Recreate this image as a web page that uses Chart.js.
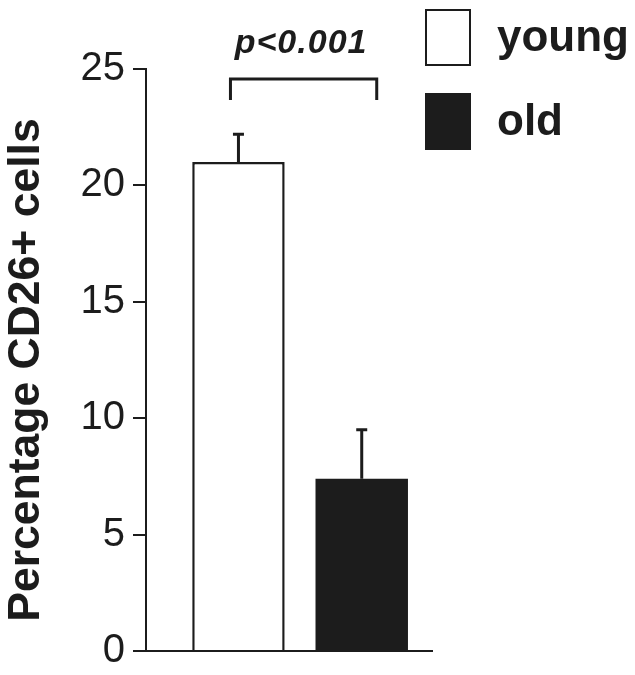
<!DOCTYPE html>
<html>
<head>
<meta charset="utf-8">
<script src="https://cdn.jsdelivr.net/npm/chart.js@4.4.1/dist/chart.umd.min.js"></script>
<style>
  html, body { margin: 0; padding: 0; background: #ffffff; }
  #wrap { width: 635px; height: 675px; }
</style>
</head>
<body>
<div id="wrap"><canvas id="c" width="635" height="675"></canvas></div>
<script>
// ---- data ----
const categories = ['young', 'old'];
const values = [21.0, 7.4];
const errors = [1.2, 2.1];
const yTicks = [0, 5, 10, 15, 20, 25];
const pLabel = 'p<0.001';
const yTitle = 'Percentage CD26+ cells';

const INK = '#1c1c1c';
const fills = ['#ffffff', INK];
const borderWidths = [2.5, 0];

const errorBarPlugin = {
  id: 'errorBars',
  afterDatasetsDraw(chart) {
    const ctx = chart.ctx;
    const meta = chart.getDatasetMeta(0);
    const ys = chart.scales.y;
    ctx.save();
    ctx.strokeStyle = INK;
    ctx.lineWidth = 3;
    meta.data.forEach((bar, i) => {
      const x = bar.x;
      const yTop = ys.getPixelForValue(values[i] + errors[i]);
      const yBar = ys.getPixelForValue(values[i]);
      ctx.beginPath();
      ctx.moveTo(x, yBar);
      ctx.lineTo(x, yTop);
      ctx.moveTo(x - 5.5, yTop);
      ctx.lineTo(x + 5.5, yTop);
      ctx.stroke();
    });
    // significance bracket
    const x0 = meta.data[0].x - 8;
    const x1 = meta.data[1].x + 15;
    const yb = ys.getPixelForValue(24.57);
    const yl = ys.getPixelForValue(23.67);
    ctx.beginPath();
    ctx.moveTo(x0, yl);
    ctx.lineTo(x0, yb);
    ctx.lineTo(x1, yb);
    ctx.lineTo(x1, yl);
    ctx.stroke();
    ctx.fillStyle = INK;
    ctx.font = 'italic bold 34px "Liberation Sans", Arial, sans-serif';
    ctx.textAlign = 'center';
    ctx.textBaseline = 'alphabetic';
    try { ctx.letterSpacing = '1px'; } catch (e) {}
    ctx.fillText(pLabel, (meta.data[0].x + meta.data[1].x) / 2 + 1, ys.getPixelForValue(25.68));
    try { ctx.letterSpacing = '0px'; } catch (e) {}
    // legend
    ctx.font = 'bold 44px "Liberation Sans", Arial, sans-serif';
    ctx.textAlign = 'left';
    ctx.textBaseline = 'middle';
    const lx = 425, bw = 46, bh = 57;
    const rows = [9, 93];
    categories.forEach((name, i) => {
      const top = rows[i];
      ctx.fillStyle = fills[i];
      ctx.fillRect(lx, top, bw, bh);
      if (borderWidths[i] > 0) {
        ctx.lineWidth = 2;
        ctx.strokeStyle = INK;
        ctx.strokeRect(lx + 1, top + 1, bw - 2, bh - 2);
      }
      ctx.fillStyle = INK;
      ctx.fillText(name, 497, top + bh / 2 + 1);
    });
    // y-axis title
    ctx.save();
    ctx.translate(27, 370);
    ctx.rotate(-Math.PI / 2);
    ctx.font = 'bold 44.5px "Liberation Sans", Arial, sans-serif';
    ctx.textAlign = 'center';
    ctx.textBaseline = 'middle';
    ctx.fillText(yTitle, 0, 0);
    ctx.restore();
    ctx.restore();
  }
};

new Chart(document.getElementById('c'), {
  type: 'bar',
  data: {
    datasets: [{
      data: categories.map((c, i) => ({ x: i + 1, y: values[i] })),
      backgroundColor: fills,
      borderColor: INK,
      borderWidth: borderWidths,
      borderSkipped: 'bottom',
      barPercentage: 0.75,
      categoryPercentage: 1.0
    }]
  },
  options: {
    responsive: false,
    animation: false,
    devicePixelRatio: 1,
    layout: { padding: { top: 69, right: 203, bottom: 0, left: 0 } },
    plugins: { legend: { display: false }, tooltip: { enabled: false } },
    scales: {
      x: {
        type: 'linear',
        offset: false,
        min: 0.25,
        max: 2.57,
        afterBuildTicks(s) { s.ticks = categories.map((c, i) => ({ value: i + 1 })); },
        ticks: { display: false },
        grid: { display: false, drawTicks: false },
        border: { display: true, color: INK, width: 2 },
        afterFit(s) { s.height = 24; s.paddingLeft = 0; s.paddingRight = 0; }
      },
      y: {
        min: 0,
        max: 25,
        afterBuildTicks(s) { s.ticks = yTicks.map(v => ({ value: v })); },
        ticks: {
          color: INK,
          padding: 8,
          font: { family: '"Liberation Sans", Arial, sans-serif', size: 40 }
        },
        grid: { drawOnChartArea: false, drawTicks: true, tickLength: 13, color: INK, lineWidth: 2 },
        border: { display: true, color: INK, width: 2 },
        title: { display: false },
        afterFit(s) { s.width = 146; s.paddingTop = 0; s.paddingBottom = 0; }
      }
    }
  },
  plugins: [errorBarPlugin]
});
</script>
</body>
</html>
